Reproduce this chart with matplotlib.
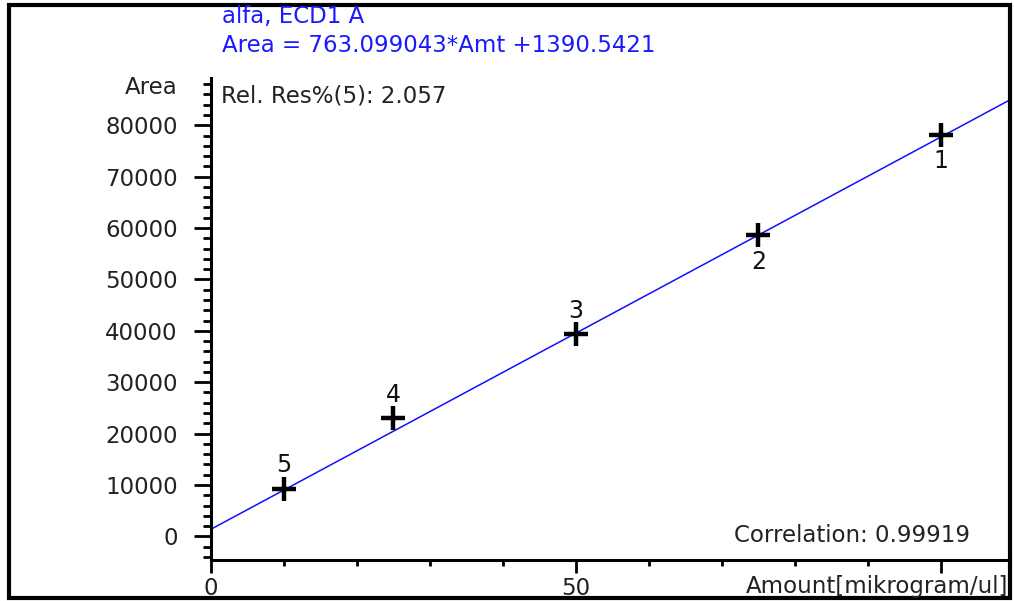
import matplotlib
matplotlib.use("Agg")
import matplotlib.pyplot as plt
from matplotlib.patches import Rectangle
from matplotlib.ticker import MultipleLocator, FixedLocator
import numpy as np

# calibration points
amount = [100, 75, 50, 25, 10]
area = [78100, 58600, 39300, 23000, 9300]
point_ids = ["1", "2", "3", "4", "5"]
label_above = [False, False, True, True, True]

slope = 763.099043
intercept = 1390.5421
correlation = "0.99919"
rel_res = "2.057"

W, H = 1014, 601
fig = plt.figure(figsize=(W / 100, H / 100), dpi=100)
fig.patch.set_facecolor("white")

def fx(px):
    return px / W

def fy(py):
    return 1 - py / H

ax = fig.add_axes([fx(211), fy(560), fx(1010) - fx(211), fy(78) - fy(560)])
ax.set_xlim(0, 109.5)
ax.set_ylim(-4600, 89200)

# regression line across the whole x range
xs = np.array(ax.get_xlim())
ax.plot(xs, slope * xs + intercept, color="#1010ff", lw=1.1, zorder=2)

ax.plot(amount, area, linestyle="none", marker="+", markersize=17,
        markeredgewidth=3.2, color="black", zorder=3)

for x, y, lab, up in zip(amount, area, point_ids, label_above):
    ax.annotate(lab, (x, y), xytext=(0, 17 if up else -19), textcoords="offset points",
                ha="center", va="center", fontsize=17, color="#111111")

for s in ["top", "right"]:
    ax.spines[s].set_visible(False)
ax.spines["left"].set_linewidth(2.2)
ax.spines["bottom"].set_linewidth(2.2)

ax.yaxis.set_major_locator(MultipleLocator(10000))
ax.yaxis.set_minor_locator(MultipleLocator(2000))
ax.xaxis.set_major_locator(FixedLocator([0, 50, 100]))
ax.xaxis.set_minor_locator(MultipleLocator(10))
ax.set_xticklabels(["0", "50", ""])

ax.tick_params(axis="y", which="major", length=12, width=2, pad=12, labelsize=16.5)
ax.tick_params(axis="y", which="minor", length=6, width=2)
ax.tick_params(axis="x", which="major", length=9, width=2, pad=3, labelsize=16.5)
ax.tick_params(axis="x", which="minor", length=4, width=2)
for t in ax.get_yticklabels() + ax.get_xticklabels():
    t.set_color("#222222")

fig.text(fx(178), fy(88), "Area", ha="right", va="center", fontsize=16.5, color="#222222")
fig.text(fx(1008), fy(586), "Amount[mikrogram/ul]", ha="right", va="center",
         fontsize=16.5, color="#222222")
ax.text(0.013, 0.962, "Rel. Res%(5): " + rel_res, transform=ax.transAxes,
        ha="left", va="center", fontsize=16.5, color="#222222")
ax.text(0.95, 0.05, "Correlation: " + correlation, transform=ax.transAxes,
        ha="right", va="center", fontsize=16.5, color="#222222")

fig.text(fx(222), fy(17), "alfa, ECD1 A", ha="left", va="center", fontsize=16.5, color="#1a1aff")
fig.text(fx(222), fy(46), "Area = %.6f*Amt +%.4f" % (slope, intercept), ha="left",
         va="center", fontsize=16.5, color="#1a1aff")

# outer frame
fig.patches.append(Rectangle((fx(9), fy(598)), fx(1010) - fx(9), fy(5) - fy(598),
                             transform=fig.transFigure, fill=False, edgecolor="black",
                             linewidth=3))

fig.savefig("out.png", dpi=100)
